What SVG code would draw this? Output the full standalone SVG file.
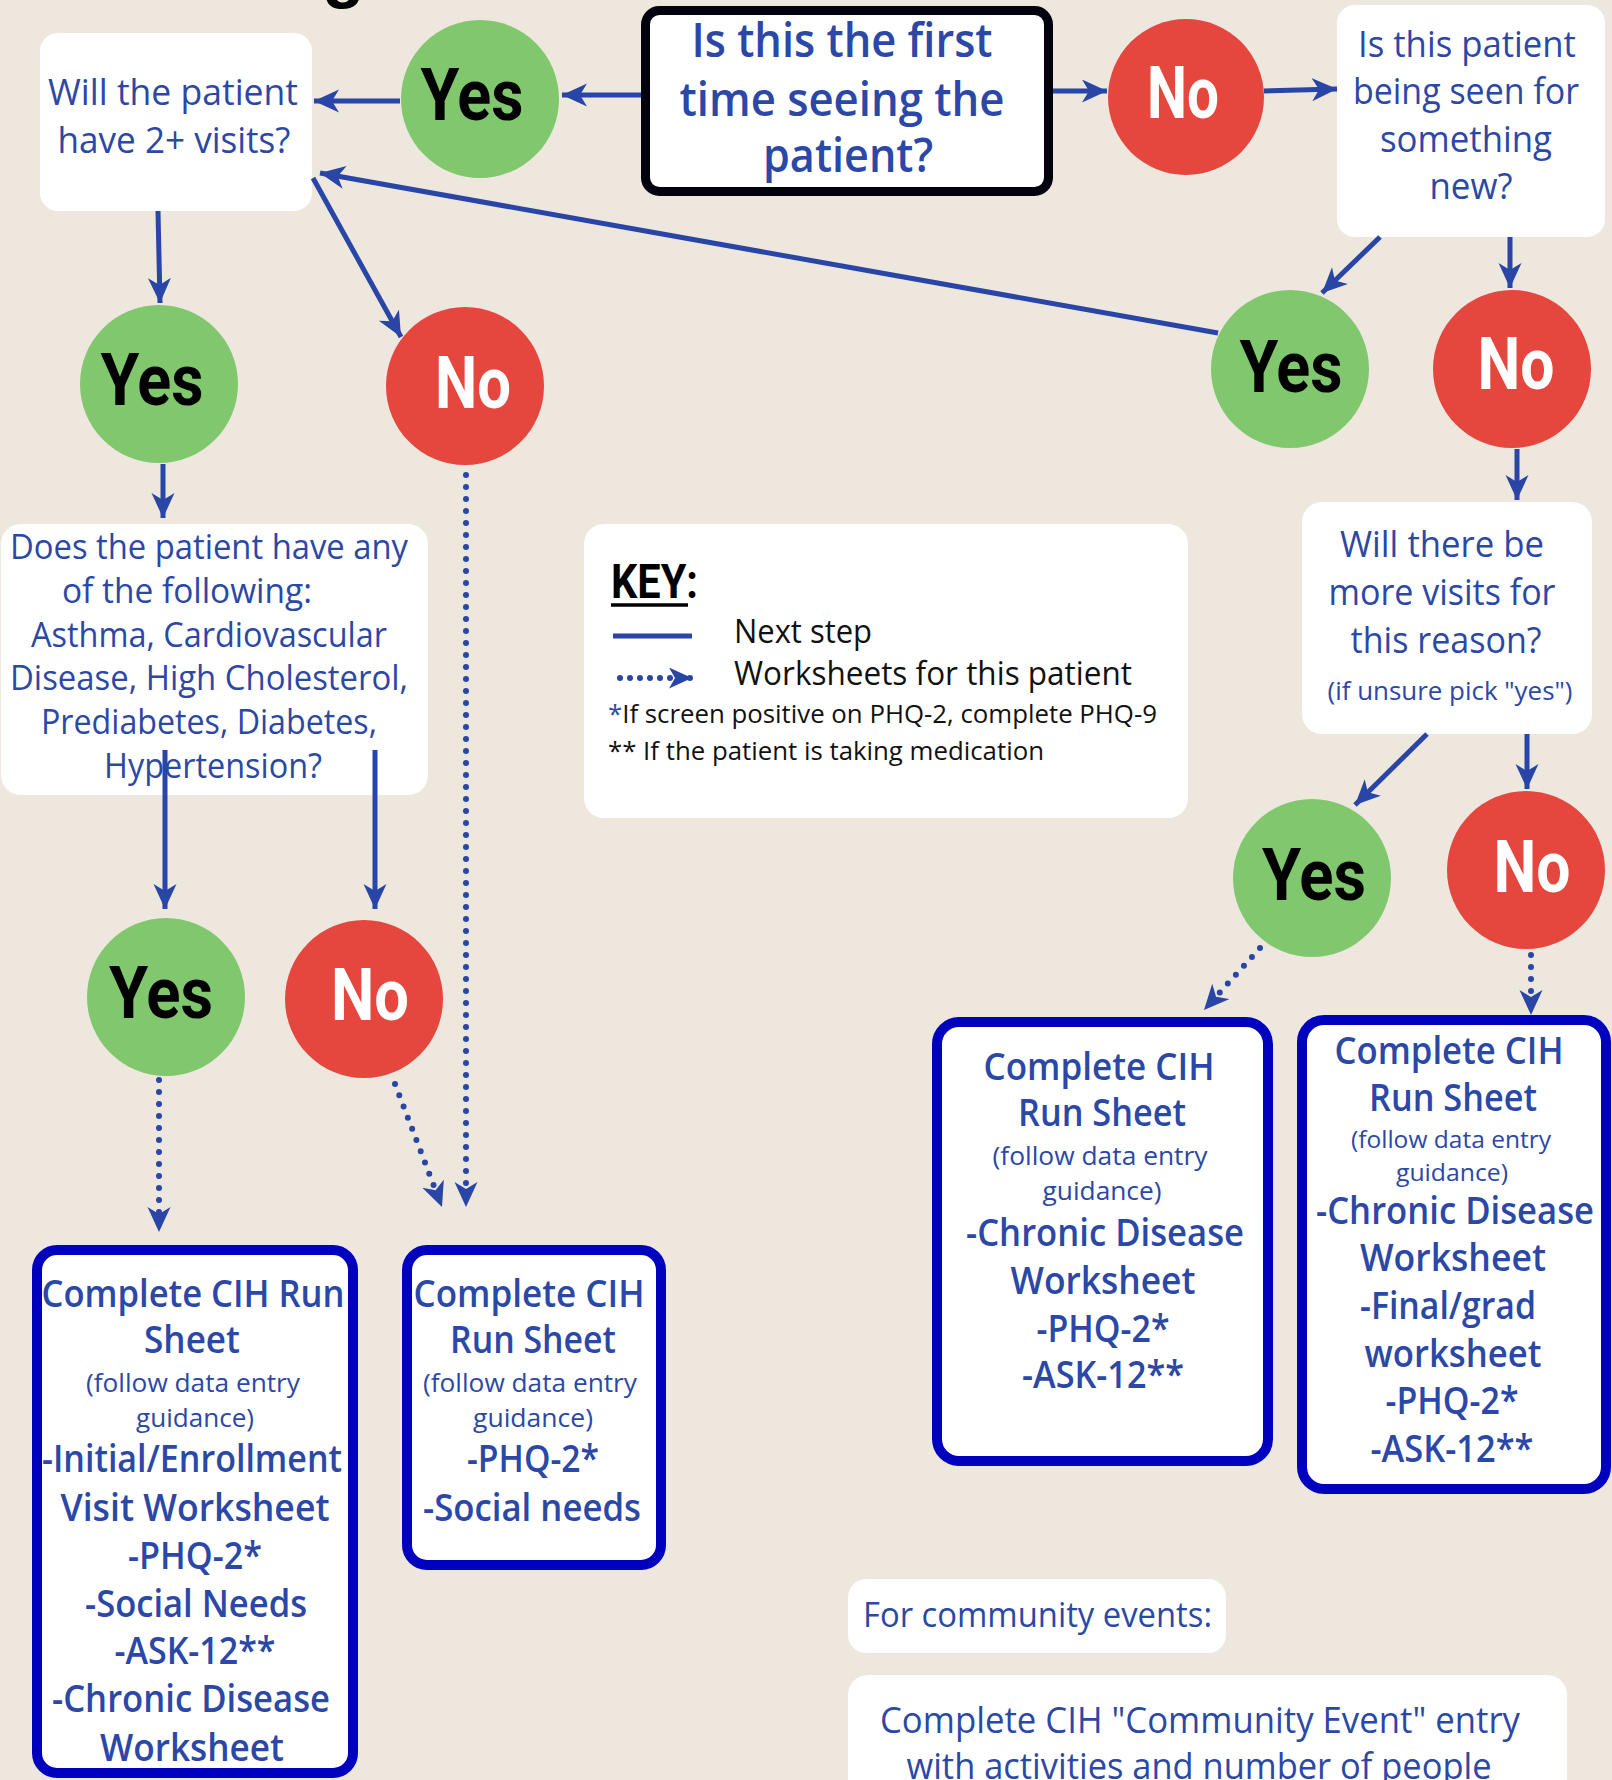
<svg xmlns="http://www.w3.org/2000/svg" width="1612" height="1780" viewBox="0 0 1612 1780">
<style>
.t{font-family:"Open Sans","Liberation Sans",sans-serif;fill:#2b48a6;text-anchor:middle}
.b{font-weight:600}
.k{font-family:"Open Sans","Liberation Sans",sans-serif;fill:#111}
.yn{font-family:Roboto,"Liberation Sans",sans-serif;font-weight:700;font-size:72px;text-anchor:middle}
.yes circle{fill:#80c76e}
.no circle{fill:#e5463d}
.yes text{fill:#000}
.no text{fill:#fff}
.wb{fill:#fff}
.bb{fill:#fff;stroke:#0000bf;stroke-width:10}
.c{fill:none;stroke:#2945a5;stroke-width:5;marker-end:url(#ah)}
.d{fill:none;stroke:#2945a5;stroke-width:6;stroke-linecap:round;stroke-dasharray:0 12;marker-end:url(#ah)}
</style>
<defs>
<marker id="ah" markerUnits="userSpaceOnUse" markerWidth="26" markerHeight="24" refX="25" refY="11.5" orient="auto">
<path d="M0,0 L25,11.5 L0,23 L7,11.5 z" fill="#2945a5"/>
</marker>
<marker id="ahs" markerUnits="userSpaceOnUse" markerWidth="24" markerHeight="22" refX="23" refY="10.5" orient="auto">
<path d="M0,0 L23,10.5 L0,21 L6,10.5 z" fill="#2945a5"/>
</marker>
</defs>
<rect width="1612" height="1780" fill="#eee7de"/>
<text x="322" y="-6" font-family="Liberation Sans,sans-serif" font-weight="700" font-size="70" fill="#000">g</text>

<g id="first-time">
<rect x="645.5" y="10.5" width="403" height="181" rx="14" fill="#fff" stroke="#02020e" stroke-width="9"/>
<text class="t b" font-size="47" x="842" y="57" textLength="301" lengthAdjust="spacingAndGlyphs">Is this the first</text>
<text class="t b" font-size="47" x="842" y="116" textLength="325" lengthAdjust="spacingAndGlyphs">time seeing the</text>
<text class="t b" font-size="47" x="848" y="172" textLength="170" lengthAdjust="spacingAndGlyphs">patient?</text>
</g>

<g id="yes-first" class="yes"><circle cx="480" cy="99" r="79"/><text class="yn" x="472" y="120" textLength="103" lengthAdjust="spacingAndGlyphs">Yes</text></g>
<g id="no-first" class="no"><circle cx="1186" cy="97" r="78"/><text class="yn" x="1183" y="118" textLength="72" lengthAdjust="spacingAndGlyphs">No</text></g>

<g id="two-plus">
<rect class="wb" x="40" y="33" width="272" height="178" rx="18"/>
<text class="t" font-size="37" x="173" y="105" textLength="250" lengthAdjust="spacingAndGlyphs">Will the patient</text>
<text class="t" font-size="37" x="174" y="153" textLength="233" lengthAdjust="spacingAndGlyphs">have 2+ visits?</text>
</g>

<g id="something-new">
<rect class="wb" x="1337" y="5" width="268" height="232" rx="18"/>
<text class="t" font-size="37" x="1467" y="57" textLength="218" lengthAdjust="spacingAndGlyphs">Is this patient</text>
<text class="t" font-size="37" x="1466" y="104" textLength="226" lengthAdjust="spacingAndGlyphs">being seen for</text>
<text class="t" font-size="37" x="1466" y="152" textLength="172" lengthAdjust="spacingAndGlyphs">something</text>
<text class="t" font-size="37" x="1471" y="199" textLength="83" lengthAdjust="spacingAndGlyphs">new?</text>
</g>

<g id="yes-2plus" class="yes"><circle cx="159" cy="384" r="79"/><text class="yn" x="152" y="405" textLength="103" lengthAdjust="spacingAndGlyphs">Yes</text></g>
<g id="no-2plus" class="no"><circle cx="465" cy="386" r="79"/><text class="yn" x="473" y="408" textLength="76" lengthAdjust="spacingAndGlyphs">No</text></g>
<g id="yes-new" class="yes"><circle cx="1290" cy="369" r="79"/><text class="yn" x="1291" y="392" textLength="103" lengthAdjust="spacingAndGlyphs">Yes</text></g>
<g id="no-new" class="no"><circle cx="1512" cy="369" r="79"/><text class="yn" x="1516" y="389" textLength="77" lengthAdjust="spacingAndGlyphs">No</text></g>

<g id="conditions">
<rect class="wb" x="1" y="524" width="427" height="271" rx="20"/>
<text class="t" font-size="35" x="209" y="559" textLength="398" lengthAdjust="spacingAndGlyphs">Does the patient have any</text>
<text class="t" font-size="35" x="187" y="603" textLength="250" lengthAdjust="spacingAndGlyphs">of the following:</text>
<text class="t" font-size="35" x="209" y="647" textLength="356" lengthAdjust="spacingAndGlyphs">Asthma, Cardiovascular</text>
<text class="t" font-size="35" x="209" y="690" textLength="398" lengthAdjust="spacingAndGlyphs">Disease, High Cholesterol,</text>
<text class="t" font-size="35" x="209" y="734" textLength="336" lengthAdjust="spacingAndGlyphs">Prediabetes, Diabetes,</text>
<text class="t" font-size="35" x="213" y="778" textLength="218" lengthAdjust="spacingAndGlyphs">Hypertension?</text>
</g>

<g id="key">
<rect class="wb" x="584" y="524" width="604" height="294" rx="20"/>
<text x="611" y="598" font-family="Roboto,sans-serif" font-weight="700" font-size="48" fill="#000" textLength="87" lengthAdjust="spacingAndGlyphs">KEY:</text>
<line x1="611" y1="605" x2="688" y2="605" stroke="#000" stroke-width="3.5"/>
<line x1="613" y1="636" x2="692" y2="636" stroke="#2945a5" stroke-width="5"/>
<path d="M620,678 L692,678" fill="none" stroke="#2945a5" stroke-width="6" stroke-linecap="round" stroke-dasharray="0 10" marker-end="url(#ahs)"/>
<text class="k" font-size="33" x="734" y="643" textLength="138" lengthAdjust="spacingAndGlyphs">Next step</text>
<text class="k" font-size="33" x="734" y="685" textLength="398" lengthAdjust="spacingAndGlyphs">Worksheets for this patient</text>
<text class="k" font-size="26" x="608" y="723" textLength="549" lengthAdjust="spacingAndGlyphs"><tspan fill="#2b48a6">*</tspan>If screen positive on PHQ-2, complete PHQ-9</text>
<text class="k" font-size="26" x="608" y="760" textLength="436" lengthAdjust="spacingAndGlyphs">** If the patient is taking medication</text>
</g>

<g id="more-visits">
<rect class="wb" x="1302" y="502" width="290" height="232" rx="20"/>
<text class="t" font-size="37" x="1442" y="557" textLength="204" lengthAdjust="spacingAndGlyphs">Will there be</text>
<text class="t" font-size="37" x="1442" y="605" textLength="227" lengthAdjust="spacingAndGlyphs">more visits for</text>
<text class="t" font-size="37" x="1446" y="653" textLength="191" lengthAdjust="spacingAndGlyphs">this reason?</text>
<text class="t" font-size="26" x="1450" y="700" textLength="245" lengthAdjust="spacingAndGlyphs">(if unsure pick "yes")</text>
</g>

<g id="yes-more" class="yes"><circle cx="1312" cy="878" r="79"/><text class="yn" x="1314" y="900" textLength="104" lengthAdjust="spacingAndGlyphs">Yes</text></g>
<g id="no-more" class="no"><circle cx="1526" cy="870" r="79"/><text class="yn" x="1532" y="892" textLength="77" lengthAdjust="spacingAndGlyphs">No</text></g>
<g id="yes-cond" class="yes"><circle cx="166" cy="997" r="79"/><text class="yn" x="161" y="1018" textLength="104" lengthAdjust="spacingAndGlyphs">Yes</text></g>
<g id="no-cond" class="no"><circle cx="364" cy="999" r="79"/><text class="yn" x="370" y="1020" textLength="78" lengthAdjust="spacingAndGlyphs">No</text></g>

<g id="sheet-initial">
<rect class="bb" x="37" y="1250" width="316" height="523" rx="20"/>
<text class="t b" font-size="37" x="193" y="1307" textLength="303" lengthAdjust="spacingAndGlyphs">Complete CIH Run</text>
<text class="t b" font-size="37" x="192" y="1353" textLength="96" lengthAdjust="spacingAndGlyphs">Sheet</text>
<text class="t" font-size="26" x="193" y="1392" textLength="214" lengthAdjust="spacingAndGlyphs">(follow data entry</text>
<text class="t" font-size="26" x="195" y="1427" textLength="118" lengthAdjust="spacingAndGlyphs">guidance)</text>
<text class="t b" font-size="37" x="192" y="1472" textLength="300" lengthAdjust="spacingAndGlyphs">-Initial/Enrollment</text>
<text class="t b" font-size="37" x="195" y="1521" textLength="269" lengthAdjust="spacingAndGlyphs">Visit Worksheet</text>
<text class="t b" font-size="37" x="195" y="1569" textLength="134" lengthAdjust="spacingAndGlyphs">-PHQ-2*</text>
<text class="t b" font-size="37" x="196" y="1617" textLength="222" lengthAdjust="spacingAndGlyphs">-Social Needs</text>
<text class="t b" font-size="37" x="195" y="1664" textLength="161" lengthAdjust="spacingAndGlyphs">-ASK-12**</text>
<text class="t b" font-size="37" x="191" y="1712" textLength="278" lengthAdjust="spacingAndGlyphs">-Chronic Disease</text>
<text class="t b" font-size="37" x="192" y="1761" textLength="184" lengthAdjust="spacingAndGlyphs">Worksheet</text>
</g>

<g id="sheet-social">
<rect class="bb" x="407" y="1250" width="254" height="315" rx="20"/>
<text class="t b" font-size="37" x="529" y="1307" textLength="231" lengthAdjust="spacingAndGlyphs">Complete CIH</text>
<text class="t b" font-size="37" x="533" y="1353" textLength="166" lengthAdjust="spacingAndGlyphs">Run Sheet</text>
<text class="t" font-size="26" x="530" y="1392" textLength="214" lengthAdjust="spacingAndGlyphs">(follow data entry</text>
<text class="t" font-size="26" x="533" y="1427" textLength="120" lengthAdjust="spacingAndGlyphs">guidance)</text>
<text class="t b" font-size="37" x="533" y="1472" textLength="132" lengthAdjust="spacingAndGlyphs">-PHQ-2*</text>
<text class="t b" font-size="37" x="532" y="1521" textLength="218" lengthAdjust="spacingAndGlyphs">-Social needs</text>
</g>

<g id="sheet-chronic">
<rect class="bb" x="937" y="1022" width="331" height="439" rx="22"/>
<text class="t b" font-size="37" x="1099" y="1080" textLength="231" lengthAdjust="spacingAndGlyphs">Complete CIH</text>
<text class="t b" font-size="37" x="1102" y="1126" textLength="168" lengthAdjust="spacingAndGlyphs">Run Sheet</text>
<text class="t" font-size="26" x="1100" y="1165" textLength="215" lengthAdjust="spacingAndGlyphs">(follow data entry</text>
<text class="t" font-size="26" x="1102" y="1200" textLength="119" lengthAdjust="spacingAndGlyphs">guidance)</text>
<text class="t b" font-size="37" x="1105" y="1246" textLength="278" lengthAdjust="spacingAndGlyphs">-Chronic Disease</text>
<text class="t b" font-size="37" x="1103" y="1294" textLength="185" lengthAdjust="spacingAndGlyphs">Worksheet</text>
<text class="t b" font-size="37" x="1103" y="1342" textLength="133" lengthAdjust="spacingAndGlyphs">-PHQ-2*</text>
<text class="t b" font-size="37" x="1103" y="1388" textLength="162" lengthAdjust="spacingAndGlyphs">-ASK-12**</text>
</g>

<g id="sheet-final">
<rect class="bb" x="1302" y="1020" width="304" height="469" rx="22"/>
<text class="t b" font-size="37" x="1449" y="1064" textLength="229" lengthAdjust="spacingAndGlyphs">Complete CIH</text>
<text class="t b" font-size="37" x="1453" y="1111" textLength="168" lengthAdjust="spacingAndGlyphs">Run Sheet</text>
<text class="t" font-size="24" x="1451" y="1148" textLength="200" lengthAdjust="spacingAndGlyphs">(follow data entry</text>
<text class="t" font-size="24" x="1452" y="1181" textLength="112" lengthAdjust="spacingAndGlyphs">guidance)</text>
<text class="t b" font-size="37" x="1455" y="1224" textLength="278" lengthAdjust="spacingAndGlyphs">-Chronic Disease</text>
<text class="t b" font-size="37" x="1453" y="1271" textLength="186" lengthAdjust="spacingAndGlyphs">Worksheet</text>
<text class="t b" font-size="37" x="1448" y="1319" textLength="176" lengthAdjust="spacingAndGlyphs">-Final/grad</text>
<text class="t b" font-size="37" x="1453" y="1367" textLength="177" lengthAdjust="spacingAndGlyphs">worksheet</text>
<text class="t b" font-size="37" x="1452" y="1414" textLength="133" lengthAdjust="spacingAndGlyphs">-PHQ-2*</text>
<text class="t b" font-size="37" x="1452" y="1462" textLength="163" lengthAdjust="spacingAndGlyphs">-ASK-12**</text>
</g>

<g id="community-label">
<rect class="wb" x="848" y="1579" width="378" height="74" rx="18"/>
<text class="t" font-size="34" x="863" y="1627" style="text-anchor:start" textLength="349" lengthAdjust="spacingAndGlyphs">For community events:</text>
</g>

<g id="community-entry">
<rect class="wb" x="848" y="1675" width="719" height="130" rx="20"/>
<text class="t" font-size="37" x="1200" y="1733" textLength="640" lengthAdjust="spacingAndGlyphs">Complete CIH "Community Event" entry</text>
<text class="t" font-size="37" x="1199" y="1779" textLength="585" lengthAdjust="spacingAndGlyphs">with activities and number of people</text>
</g>

<g id="connectors">
<path class="c" d="M641,95 L562,95"/>
<path class="c" d="M400,101 L314,101"/>
<path class="c" d="M1053,91 L1107,91"/>
<path class="c" d="M1264,91 L1337,89"/>
<path class="c" d="M158,211 L160,303"/>
<path class="c" d="M313,178 L401,337"/>
<path class="c" d="M1218,333 L320,173"/>
<path class="c" d="M1380,237 L1322,293"/>
<path class="c" d="M1510,237 L1510,288"/>
<path class="c" d="M163,464 L163,518"/>
<path class="c" d="M1517,449 L1517,500"/>
<path class="c" d="M165,750 L165,909"/>
<path class="c" d="M375,750 L375,909"/>
<path class="c" d="M1427,734 L1355,805"/>
<path class="c" d="M1527,734 L1527,789"/>
<path class="d" d="M466,475 L466,1207"/>
<path class="d" d="M395,1084 L442,1207"/>
<path class="d" d="M159,1080 L159,1232"/>
<path class="d" d="M1260,948 L1204,1010"/>
<path class="d" d="M1531,955 L1531,1015"/>
</g>
</svg>
